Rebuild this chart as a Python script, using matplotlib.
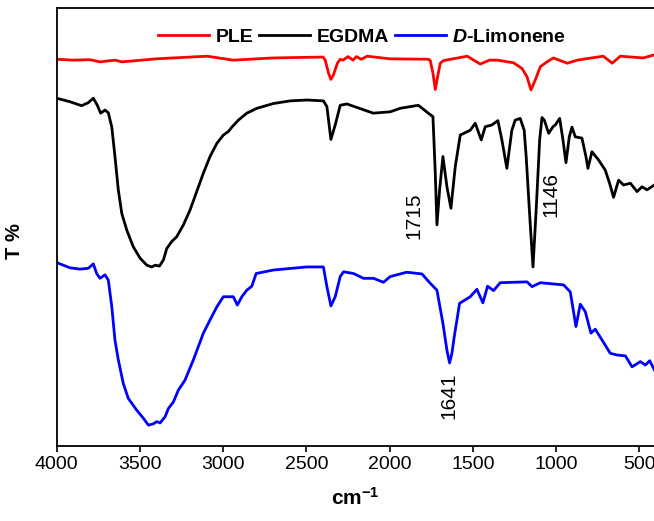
import numpy as np
import matplotlib
matplotlib.use("Agg")
from matplotlib import pyplot as plt

plt.rcParams['font.family'] = 'Liberation Sans'
plt.rcParams['mathtext.fontset'] = 'custom'
plt.rcParams['mathtext.rm'] = 'Liberation Sans'
plt.rcParams['mathtext.bf'] = 'Liberation Sans:bold'
plt.rcParams['mathtext.bfit'] = 'Liberation Sans:italic:bold'

# PLE
w_ple = [4000, 3900, 3800, 3740, 3650, 3608, 3400, 3097, 2940, 2700,
         2400, 2387, 2367, 2353, 2338, 2314, 2297, 2280, 2250, 2220,
         2200, 2170, 2135, 2000, 1768, 1756, 1740, 1726, 1712, 1696,
         1676, 1534, 1456, 1400, 1354, 1290, 1256, 1205, 1175, 1151,
         1125, 1095, 1055, 1017, 933, 873, 717, 663, 615, 477, 411]
T_ple = [88.2, 88.0, 88.1, 87.6, 88.0, 87.6, 88.3, 88.9, 88.0, 88.5,
         88.7, 88.0, 85.0, 83.6, 84.6, 87.3, 88.2, 88.0, 88.8, 88.0,
         88.8, 88.2, 88.9, 88.3, 88.2, 87.9, 85.0, 81.3, 84.2, 87.3,
         87.9, 88.9, 87.1, 88.0, 88.0, 87.6, 87.4, 86.1, 84.2, 81.2,
         83.5, 86.5, 87.6, 88.5, 87.3, 88.0, 88.9, 87.3, 88.9, 88.5, 89.2]

# EGDMA
w_egdma = [4000, 3920, 3850, 3810, 3780, 3756, 3736, 3710, 3690, 3669,
           3650, 3630, 3609, 3579, 3540, 3499, 3459, 3429, 3409, 3383,
           3359, 3339, 3309, 3279, 3239, 3199, 3159, 3119, 3079, 3038,
           2999, 2969, 2948, 2909, 2858, 2798, 2698, 2598, 2498, 2398,
           2377, 2353, 2327, 2297, 2257, 2099,
           1997, 1937, 1828, 1768, 1740, 1726, 1716, 1700, 1680, 1656,
           1632, 1606, 1576, 1516, 1486, 1450, 1426, 1386, 1350, 1326,
           1296, 1266, 1246, 1216, 1192, 1180, 1156, 1139, 1119, 1099,
           1085, 1071, 1045, 1019, 1005, 979, 959, 941, 921, 905,
           885, 845, 821, 809, 785, 745, 705, 679, 655, 625,
           595, 554, 514, 484, 454, 410]
T_egdma = [79.3, 78.5, 77.6, 78.3, 79.3, 77.7, 75.9, 76.6, 76.0, 72.7,
           66.0, 58.4, 53.0, 49.2, 45.4, 42.8, 41.2, 40.8, 41.2, 41.0,
           42.4, 45.0, 46.6, 47.7, 50.4, 53.8, 58.0, 62.2, 66.0, 69.0,
           70.9, 71.7, 72.7, 74.3, 75.9, 77.0, 78.1, 78.7, 78.9, 78.7,
           77.4, 69.9, 73.2, 77.7, 78.0, 75.9,
           76.2, 77.0, 77.7, 75.9, 75.1, 62.2, 50.4, 58.4, 66.0, 59.1,
           54.2, 63.7, 70.9, 72.0, 73.6, 69.8, 72.8, 73.2, 74.2, 69.8,
           63.3, 72.0, 74.3, 74.7, 72.0, 66.0, 50.8, 40.8, 54.5, 69.8,
           74.9, 74.3, 71.3, 72.8, 73.2, 74.7, 69.8, 64.6, 70.5, 72.7,
           70.5, 70.2, 66.0, 63.3, 67.1, 65.2, 62.9, 59.9, 56.7, 60.6,
           59.5, 59.9, 58.0, 59.1, 58.4, 59.5]

# D-Limonene
w_lim = [4000, 3920, 3860, 3810, 3780, 3760, 3740, 3710, 3690, 3669,
         3650, 3630, 3600, 3570, 3519, 3480, 3449, 3419, 3399, 3379,
         3349, 3329, 3299, 3269, 3229, 3179, 3119, 3079, 3038, 2999,
         2958, 2939, 2915, 2888, 2858, 2828, 2802, 2698, 2498, 2398,
         2377, 2353, 2327, 2297, 2277, 2217, 2157, 2097, 2037, 1997,
         1897, 1806, 1757, 1716, 1680, 1656, 1640, 1626, 1612, 1580,
         1516, 1476, 1440, 1412, 1376, 1336, 1175, 1145, 1095, 955,
         915, 881, 855, 825, 791, 765, 675, 634, 584, 544,
         494, 464, 438, 410]
T_lim = [41.8, 40.6, 40.3, 40.5, 41.5, 39.3, 38.2, 39.0, 37.8, 31.7,
         24.1, 19.6, 14.2, 10.8, 8.1, 6.3, 4.7, 5.0, 5.5, 5.2,
         6.6, 8.5, 10.0, 12.7, 15.0, 19.6, 25.7, 28.7, 31.7, 34.0,
         34.0, 34.0, 32.1, 34.0, 35.5, 36.4, 39.3, 40.1, 40.8, 40.8,
         36.3, 31.9, 34.0, 38.6, 39.7, 39.3, 38.2, 38.2, 37.3, 38.6,
         39.6, 39.2, 37.1, 35.5, 27.9, 21.8, 18.9, 21.1, 24.9, 32.5,
         34.0, 35.7, 32.6, 36.4, 35.4, 37.2, 37.4, 36.3, 37.2, 36.7,
         35.1, 27.2, 32.3, 30.6, 25.7, 26.6, 21.1, 20.7, 20.5, 18.0,
         19.2, 18.4, 19.4, 17.3]

# peak labels
peak_labels = ['1715', '1146', '1641']
peak_x = [1853, 1029, 1645]
peak_y = [52.4, 57.4, 11.5]

xticks = [4000, 3500, 3000, 2500, 2000, 1500, 1000, 500]

fig = plt.figure(figsize=(6.54, 5.21), dpi=100)
ax = fig.add_axes([0.0867, 0.1445, 0.9164, 0.841])

ax.plot(w_ple, T_ple, color='#ff0000', lw=2.0, label='PLE')
ax.plot(w_egdma, T_egdma, color='black', lw=2.0, label='EGDMA')
ax.plot(w_lim, T_lim, color='#0000ff', lw=2.0, label=r'$\mathbfit{D}$-Limonene')

for lab, x, y in zip(peak_labels, peak_x, peak_y):
    ax.text(x, y, lab, rotation=90, ha='center', va='center', fontsize=15)

ax.set_xlim(4000, 400)
ax.set_ylim(0, 100)
ax.set_xticks(xticks)
ax.set_yticks([])
ax.tick_params(axis='x', direction='out', length=4.5, width=1.2, labelsize=14, pad=3)
for s in ax.spines.values():
    s.set_linewidth(1.3)

ax.set_xlabel(r'$\mathbf{cm^{-1}}$', fontsize=15)
ax.xaxis.set_label_coords(0.498, -0.095)
ax.set_ylabel('T %', fontsize=14.5, fontweight='bold')
ax.yaxis.set_label_coords(-0.054, 0.467)

ax.legend(loc='center', bbox_to_anchor=(0.51, 0.933), ncol=3, frameon=False,
          prop={'weight': 'bold', 'size': 14}, handlelength=2.6,
          handletextpad=0.35, columnspacing=0.3, borderaxespad=0)

fig.savefig('out.png', dpi=100)
